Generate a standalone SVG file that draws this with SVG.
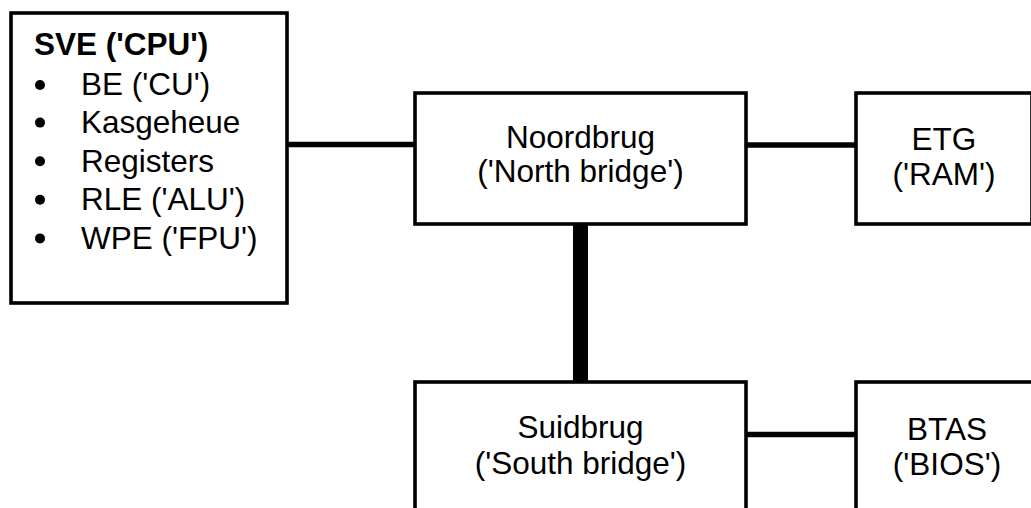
<svg xmlns="http://www.w3.org/2000/svg" width="1031" height="508" viewBox="0 0 1031 508">
<style>
.box{fill:#fff;stroke:#000;stroke-width:3.6}
.t{font-family:"Liberation Sans",Arial,sans-serif;font-size:31.5px;fill:#000}
.c{text-anchor:middle}
.b{font-weight:bold}
.conn{stroke:#000;stroke-width:5.5;fill:none}
</style>
<rect width="1031" height="508" fill="#fff"/>
<g id="connectors">
<line class="conn" x1="287" y1="144.5" x2="415" y2="144.5"/>
<line class="conn" x1="746" y1="145" x2="856" y2="145"/>
<line class="conn" x1="746" y1="434.5" x2="856" y2="434.5"/>
<line class="conn" x1="580.5" y1="224" x2="580.5" y2="382" style="stroke-width:15"/>
</g>
<g id="cpu">
<rect class="box" x="11" y="13" width="276" height="290"/>
<text class="t b" x="34" y="55">SVE ('CPU')</text>
<g fill="#000">
<circle cx="40" cy="85" r="5"/>
<circle cx="40" cy="122.6" r="5"/>
<circle cx="40" cy="161.2" r="5"/>
<circle cx="40" cy="199.8" r="5"/>
<circle cx="40" cy="238.4" r="5"/>
</g>
<text class="t" x="81" y="94.5">BE ('CU')</text>
<text class="t" x="81" y="133">Kasgeheue</text>
<text class="t" x="81" y="171.5">Registers</text>
<text class="t" x="81" y="210">RLE ('ALU')</text>
<text class="t" x="81" y="248.5">WPE ('FPU')</text>
</g>
<g id="north">
<rect class="box" x="415" y="93" width="331" height="131"/>
<text class="t c" x="580.5" y="147.5">Noordbrug</text>
<text class="t c" x="580.5" y="181.5">('North bridge')</text>
</g>
<g id="ram">
<rect class="box" x="856" y="93" width="176" height="131"/>
<text class="t c" x="944" y="150">ETG</text>
<text class="t c" x="944" y="185">('RAM')</text>
</g>
<g id="south">
<rect class="box" x="415" y="382" width="331" height="160"/>
<text class="t c" x="580.5" y="438">Suidbrug</text>
<text class="t c" x="580.5" y="474">('South bridge')</text>
</g>
<g id="bios">
<rect class="box" x="856" y="382" width="182" height="160"/>
<text class="t c" x="947" y="440">BTAS</text>
<text class="t c" x="947" y="475">('BIOS')</text>
</g>
</svg>
